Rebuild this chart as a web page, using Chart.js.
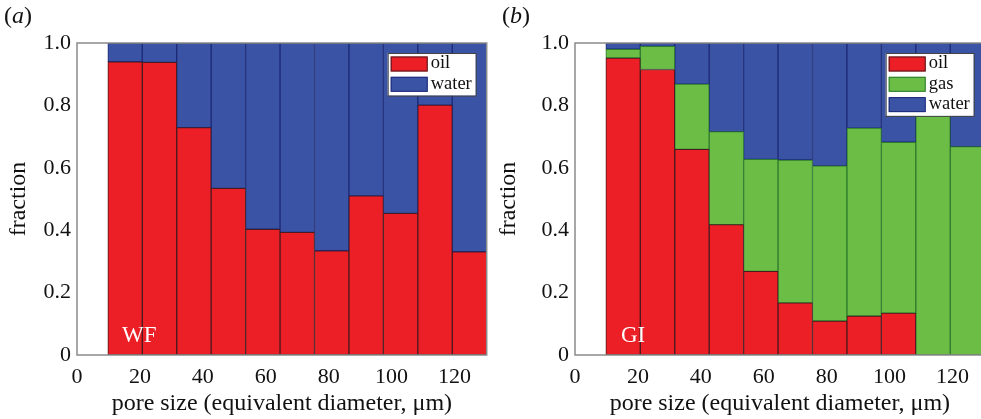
<!DOCTYPE html>
<html><head><meta charset="utf-8">
<script src="https://cdn.jsdelivr.net/npm/chart.js@4/dist/chart.umd.min.js"></script>
<style>
html,body{margin:0;padding:0;background:#fff;overflow:hidden;width:981px;height:419px;position:relative}
.panel{position:absolute;top:0;height:419px}
#pa{left:0;width:490px}
#pb{left:490px;width:500px}
.tag{position:absolute;top:2px;font-family:"Liberation Serif",serif;font-size:24px;color:#111}
</style></head><body>
<div class="panel" id="pa"><canvas id="ca" width="490" height="419"></canvas></div>
<div class="panel" id="pb"><canvas id="cb" width="500" height="419"></canvas></div>
<div class="tag" style="left:4px">(<i>a</i>)</div>
<div class="tag" style="left:502px">(<i>b</i>)</div>
<script>
// pore-size bin centres (µm)
const poreSize = [15.28, 26.23, 37.18, 48.13, 59.08, 70.03, 80.98, 91.93, 102.88, 113.83, 124.78];
const xTicks = [0, 20, 40, 60, 80, 100, 120];
const yTicks = [0, 0.2, 0.4, 0.6, 0.8, 1.0];

// (a) water flooding
const wfOil   = [0.940, 0.938, 0.729, 0.534, 0.403, 0.393, 0.334, 0.510, 0.454, 0.801, 0.331];
const wfWater = [0.060, 0.062, 0.271, 0.466, 0.597, 0.607, 0.666, 0.490, 0.546, 0.199, 0.669];

// (b) gas injection
const giOil   = [0.952, 0.915, 0.659, 0.418, 0.268, 0.167, 0.109, 0.125, 0.134, 0, 0];
const giGas   = [0.028, 0.074, 0.209, 0.298, 0.359, 0.458, 0.497, 0.602, 0.548, 0.800, 0.668];
const giWater = [0.020, 0.011, 0.132, 0.284, 0.373, 0.375, 0.394, 0.273, 0.318, 0.200, 0.332];

const SERIF = '"Liberation Serif", "Times New Roman", serif';
const RED = '#ec1f26', BLUE = '#3a53a4', GREEN = '#6cbd46';
const RED_B = '#4a1a1e', BLUE_B = '#1d2a78', GREEN_B = '#2d7a2e';

function pts(vals){ return vals.map((v,i)=>({x: poreSize[i], y: v})); }

const boxPlugin = {
  id: 'boxPlugin',
  afterDatasetsDraw(chart, args, opts){
    const {ctx, chartArea: a} = chart;
    ctx.save();
    ctx.strokeStyle = '#8a8a8a';
    ctx.lineWidth = 1.5;
    ctx.strokeRect(a.left, a.top, a.right - a.left, a.bottom - a.top);
    // inner label
    ctx.fillStyle = '#ffffff';
    ctx.font = '23px ' + SERIF;
    ctx.textBaseline = 'alphabetic';
    ctx.textAlign = 'left';
    ctx.fillText(opts.label, a.left + opts.labelDx, a.bottom - 13.5);
    // legend
    const ds = chart.data.datasets;
    const rowH = 20.3, boxW = opts.legendW, pad = 3;
    const h = ds.length * rowH + 2;
    const x0 = a.right - 11 - boxW, y0 = a.top + 10;
    ctx.fillStyle = '#fff';
    ctx.fillRect(x0, y0, boxW, h);
    ctx.strokeStyle = '#444';
    ctx.lineWidth = 1;
    ctx.strokeRect(x0 + 0.5, y0 + 0.5, boxW, h);
    ctx.font = '18.5px ' + SERIF;
    ctx.textBaseline = 'middle';
    ds.forEach((d, i) => {
      const ry = y0 + 3.5 + i * rowH;
      ctx.fillStyle = d.backgroundColor;
      ctx.fillRect(x0 + pad, ry, 37, 15);
      ctx.strokeStyle = d.borderColor;
      ctx.strokeRect(x0 + pad + 0.5, ry + 0.5, 36, 14);
      ctx.fillStyle = '#111';
      ctx.fillText(d.label, x0 + pad + 40, ry + 7);
    });
    ctx.restore();
  }
};

function makeChart(id, datasets, yAxisW, padRight, label, labelDx, legendW){
  return new Chart(document.getElementById(id), {
    type: 'bar',
    data: { datasets: datasets.map(d => ({
      label: d.label, data: pts(d.values),
      backgroundColor: d.color, borderColor: d.border, borderWidth: 1,
      borderSkipped: false, barPercentage: 1, categoryPercentage: 1
    })) },
    options: {
      responsive: false, animation: false, devicePixelRatio: 1,
      layout: { padding: { left: 0, top: 43, right: padRight, bottom: 0 } },
      plugins: { legend: { display: false }, tooltip: { enabled: false },
        boxPlugin: { label: label, labelDx: labelDx, legendW: legendW } },
      scales: {
        x: {
          type: 'linear', stacked: true, offset: false, min: 0, max: 130.25,
          grid: { display: false, drawTicks: false }, border: { display: false },
          afterBuildTicks: s => { s.ticks = xTicks.map(v => ({ value: v })); },
          afterFit: s => { s.height = 64; },
          ticks: { color: '#111', font: { family: SERIF, size: 22 }, padding: 9, maxRotation: 0, autoSkip: false },
          title: { display: true, text: 'pore size (equivalent diameter, μm)', color: '#111',
                   font: { family: SERIF, size: 24 }, padding: { top: 0, bottom: 1 } }
        },
        y: {
          stacked: true, min: 0, max: 1,
          grid: { display: false, drawTicks: false }, border: { display: false },
          afterBuildTicks: s => { s.ticks = yTicks.map(v => ({ value: v })); },
          afterFit: s => { s.width = yAxisW; },
          ticks: { color: '#111', font: { family: SERIF, size: 22 }, padding: 6,
                   callback: v => v === 0 ? '0' : v.toFixed(1) },
          title: { display: true, text: 'fraction', color: '#111',
                   font: { family: SERIF, size: 24 }, padding: { top: 4, bottom: 0 } }
        }
      }
    },
    plugins: [boxPlugin]
  });
}

makeChart('ca', [
  { label: 'oil', values: wfOil, color: RED, border: RED_B },
  { label: 'water', values: wfWater, color: BLUE, border: BLUE_B }
], 77, 3.3, 'WF', 45, 88);

makeChart('cb', [
  { label: 'oil', values: giOil, color: RED, border: RED_B },
  { label: 'gas', values: giGas, color: GREEN, border: GREEN_B },
  { label: 'water', values: giWater, color: BLUE, border: BLUE_B }
], 85, 5.3, 'GI', 46, 88);
</script>
</body></html>
